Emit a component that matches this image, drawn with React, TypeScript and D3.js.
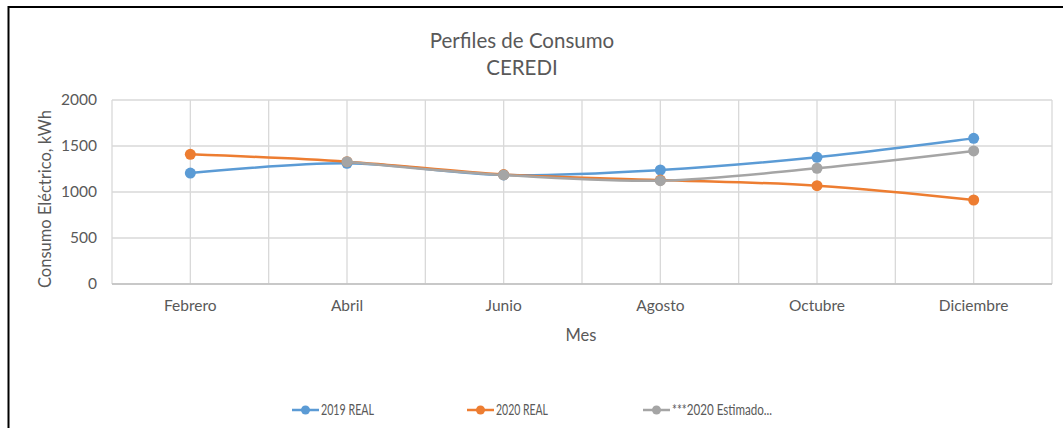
import React from 'react';
import * as d3 from 'd3';

const months = ['Febrero', 'Abril', 'Junio', 'Agosto', 'Octubre', 'Diciembre'];
const real2019 = [1206, 1312, 1185, 1239, 1377, 1584];
const real2020 = [1410, 1330, 1190, 1130, 1069, 913];
const est2020: (number | null)[] = [null, 1330, 1185, 1123, 1258, 1446];
const yTicks = [0, 500, 1000, 1500, 2000];

const series = [
  { name: '2019 REAL', color: '#5B9BD5', values: real2019 as (number | null)[] },
  { name: '2020 REAL', color: '#ED7D31', values: real2020 as (number | null)[] },
  { name: '***2020 Estimado...', color: '#A5A5A5', values: est2020 },
];

const W = 1063, H = 428;
const plot = { left: 112, right: 1052, top: 100, bottom: 284 };
const font = "Lato, 'Open Sans', sans-serif";
const textColor = '#595959';

const App = () => {
  const x = d3.scaleBand().domain(months).range([plot.left, plot.right]);
  const y = d3.scaleLinear().domain([0, 2000]).range([plot.bottom, plot.top]);
  const cx = (m: string) => (x(m) as number) + x.bandwidth() / 2;

  const line = d3.line<[string, number | null]>()
    .defined(d => d[1] != null)
    .x(d => cx(d[0]))
    .y(d => y(d[1] as number))
    .curve(d3.curveCatmullRom.alpha(0.5));

  // vertical gridlines at band edges and centres
  const vGrid: number[] = [];
  months.forEach(m => { vGrid.push(x(m) as number); vGrid.push(cx(m)); });
  vGrid.push(plot.right);

  const legendX = [292, 467, 643];
  const legendLen = [53, 52, 100];

  return (
    <div style={{ position: 'absolute', left: 0, top: 0 }}>
      <svg width={W} height={H} style={{ display: 'block', fontFamily: font }}>
        <rect x={0} y={0} width={W} height={H} fill="#fff" />
        <rect x={8.5} y={7} width={W + 10} height={H + 10} fill="none" stroke="#000" strokeWidth={2} />

        <text x={522} y={48} textAnchor="middle" fontSize={20.5} fill={textColor}>Perfiles de Consumo</text>
        <text x={522} y={75} textAnchor="middle" fontSize={20.5} fill={textColor}>CEREDI</text>

        {yTicks.map(t => (
          <g key={t}>
            <line x1={plot.left} x2={plot.right} y1={y(t)} y2={y(t)} stroke="#D9D9D9" strokeWidth={1.3} />
            <text x={plot.left - 15} y={y(t) + 5} textAnchor="end" fontSize={15.5} fill={textColor}>{t}</text>
          </g>
        ))}
        {vGrid.map((g, i) => (
          <line key={i} x1={g} x2={g} y1={plot.top} y2={plot.bottom} stroke="#D9D9D9" strokeWidth={1.3} />
        ))}
        <line x1={plot.left} x2={plot.right} y1={plot.bottom} y2={plot.bottom} stroke="#BFBFBF" strokeWidth={1.3} />

        {months.map(m => (
          <text key={m} x={cx(m)} y={plot.bottom + 27} textAnchor="middle" fontSize={15.5} fill={textColor}>{m}</text>
        ))}
        <text x={581} y={341} textAnchor="middle" fontSize={16.5} fill={textColor}>Mes</text>
        <text transform={`translate(51,199) rotate(-90)`} textAnchor="middle" fontSize={16.5} fill={textColor}>
          Consumo Eléctrico, kWh
        </text>

        {series.map(s => {
          const pts = months.map((m, i) => [m, s.values[i]] as [string, number | null]);
          return (
            <g key={s.name}>
              <path d={line(pts) || ''} fill="none" stroke={s.color} strokeWidth={2.5} strokeLinecap="round" />
              {pts.filter(p => p[1] != null).map(p => (
                <circle key={p[0]} cx={cx(p[0])} cy={y(p[1] as number)} r={5.5} fill={s.color} />
              ))}
            </g>
          );
        })}

        {series.map((s, i) => (
          <g key={s.name} transform={`translate(${legendX[i]},410)`}>
            <line x1={0} x2={27} y1={0} y2={0} stroke={s.color} strokeWidth={2.5} />
            <circle cx={13.5} cy={0} r={4.5} fill={s.color} />
            <text x={29} y={5} fontSize={14.5} fill={textColor} textLength={legendLen[i]} lengthAdjust="spacingAndGlyphs">{s.name}</text>
          </g>
        ))}
      </svg>
    </div>
  );
};

export default App;
